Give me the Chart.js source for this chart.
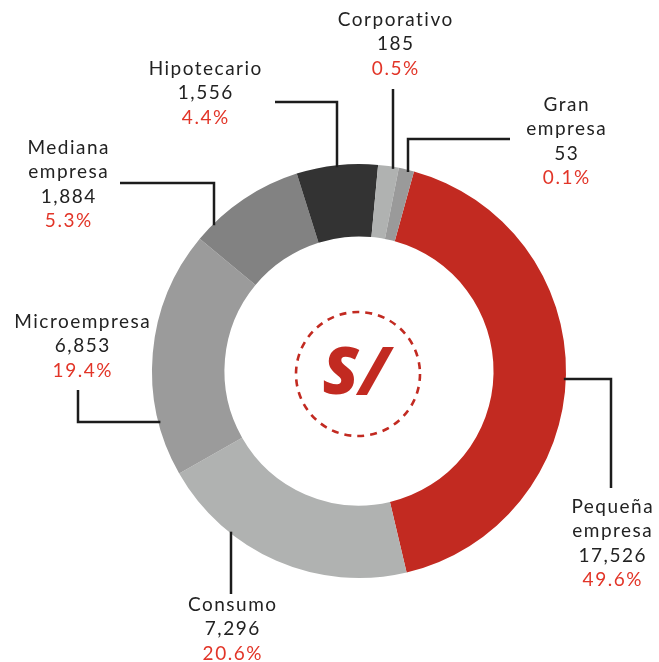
<!DOCTYPE html>
<html>
<head>
<meta charset="utf-8">
<script src="https://cdn.jsdelivr.net/npm/chart.js@4/dist/chart.umd.min.js"></script>
<style>
  html, body { margin: 0; padding: 0; background: #fff; }
  #wrap { width: 659px; height: 662px; position: relative; }
</style>
</head>
<body>
<div id="wrap"><canvas id="myChart"></canvas></div>
<script>
// Cartera por tipo de credito (S/ millones)
var categories = [["Pequeña", "empresa"], ["Consumo"], ["Microempresa"], ["Mediana", "empresa"], ["Hipotecario"], ["Corporativo"], ["Gran", "empresa"]];
var amounts = ["17,526", "7,296", "6,853", "1,884", "1,556", "185", "53"];
var shares = ["49.6%", "20.6%", "19.4%", "5.3%", "4.4%", "0.5%", "0.1%"];
// the original graphic does not draw slices to scale, so the arcs are read off the picture (degrees)
var sliceDeg = [151.3, 73.6, 69.4, 32.8, 22.8, 5.8, 4.3];

var sliceColors = ["#c22a21", "#b0b2b1", "#9b9b9b", "#828282", "#333333", "#b0b2b1", "#9a9a9a"];

// where each callout sits: text centre, first line y, leader path (last point then runs to the ring)
var callouts = [
  { x: 612, y: 507, path: [[611, 488], [611, 379]], to: "left" },
  { x: 232, y: 605, path: [[231, 594]], to: "up" },
  { x: 82, y: 322, path: [[78, 390], [78, 422]], to: "right" },
  { x: 68, y: 148, path: [[120, 183], [214, 183]], to: "down" },
  { x: 205, y: 69, path: [[275, 102], [337, 102]], to: "down" },
  { x: 395, y: 20, path: [[393, 89]], to: "down" },
  { x: 566, y: 105, path: [[510, 139], [408, 139]], to: "down" }
];

var calloutPlugin = {
  id: "callouts",
  afterDraw: function(chart) {
    var ctx = chart.ctx;
    var arc = chart.getDatasetMeta(0).data[0];
    var cx = arc.x, cy = arc.y, r = arc.outerRadius;
    ctx.save();
    // leader lines
    ctx.strokeStyle = "#1c1c1c";
    ctx.lineWidth = 2.5;
    ctx.lineJoin = "miter";
    for (var i = 0; i < callouts.length; i++) {
      var c = callouts[i];
      var p = c.path;
      var last = p[p.length - 1];
      var end;
      if (c.to == "down") end = [last[0], cy - Math.sqrt(r * r - Math.pow(last[0] - cx, 2)) + 2];
      else if (c.to == "up") end = [last[0], cy + Math.sqrt(r * r - Math.pow(last[0] - cx, 2)) - 2];
      else if (c.to == "left") end = [cx + Math.sqrt(r * r - Math.pow(last[1] - cy, 2)) - 2, last[1]];
      else end = [cx - Math.sqrt(r * r - Math.pow(last[1] - cy, 2)) + 2, last[1]];
      ctx.beginPath();
      ctx.moveTo(p[0][0], p[0][1]);
      for (var k = 1; k < p.length; k++) ctx.lineTo(p[k][0], p[k][1]);
      ctx.lineTo(end[0], end[1]);
      ctx.stroke();
    }
    // label text
    ctx.font = "19px Lato";
    ctx.letterSpacing = "1.5px";
    ctx.textAlign = "center";
    ctx.textBaseline = "middle";
    for (var i = 0; i < callouts.length; i++) {
      var c = callouts[i];
      var lines = categories[i].concat([amounts[i]]);
      var y = c.y;
      for (var j = 0; j < lines.length; j++) {
        ctx.fillStyle = "#222222";
        ctx.fillText(lines[j], c.x + 0.75, y);
        y += 24.2;
      }
      ctx.fillStyle = "#e23528";
      ctx.fillText(shares[i], c.x + 0.75, y);
    }
    ctx.letterSpacing = "0px";
    // centre badge
    var bx = cx - 1, by = cy + 3;
    ctx.strokeStyle = "#c22a21";
    ctx.lineWidth = 2.6;
    ctx.setLineDash([7, 6]);
    ctx.beginPath();
    ctx.arc(bx, by, 62, 0, Math.PI * 2);
    ctx.stroke();
    ctx.setLineDash([]);
    ctx.fillStyle = "#c22a21";
    ctx.font = "italic 800 66px 'Open Sans'";
    ctx.fillText("S/", bx - 2, by + 1);
    ctx.restore();
  }
};

new Chart("myChart", {
  type: "doughnut",
  data: {
    labels: categories,
    datasets: [{
      data: sliceDeg,
      backgroundColor: sliceColors,
      borderWidth: 0,
      hoverOffset: 0
    }]
  },
  options: {
    responsive: true,
    maintainAspectRatio: false,
    animation: false,
    rotation: 15.4,
    cutout: "65%",
    layout: { padding: { left: 152, right: 93, top: 164, bottom: 84 } },
    plugins: {
      legend: { display: false },
      tooltip: { enabled: false }
    }
  },
  plugins: [calloutPlugin]
});
</script>
</body>
</html>
